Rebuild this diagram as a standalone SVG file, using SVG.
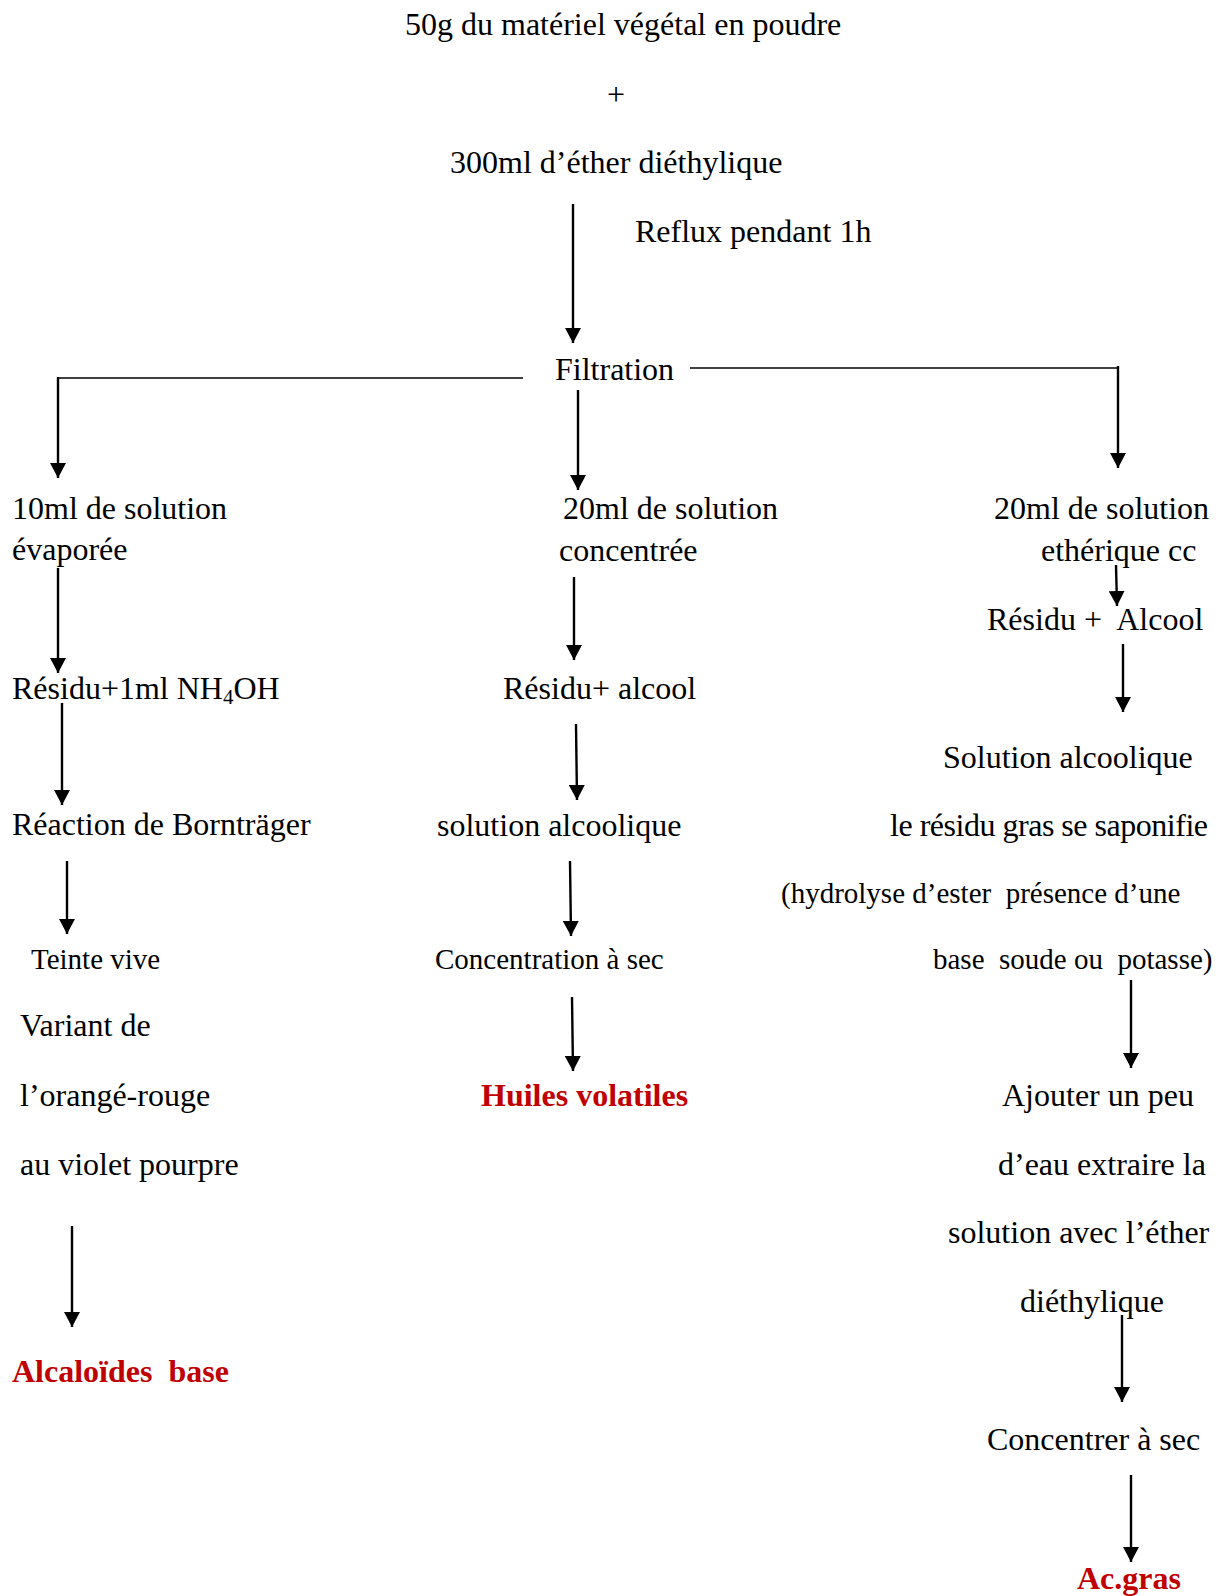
<svg xmlns="http://www.w3.org/2000/svg" width="1218" height="1596" viewBox="0 0 1218 1596">
<style>
text{font-family:"Liberation Serif","Times New Roman",serif;font-size:32px;fill:#000;white-space:pre}
.s{font-size:29px}
.r{fill:#C00000;font-weight:bold}
.c line{stroke:#000;stroke-width:2.4}
.c .h{stroke-width:1.7}
</style>
<defs>
<marker id="ah" viewBox="0 0 15 16" refX="15" refY="8" markerWidth="15" markerHeight="16" markerUnits="userSpaceOnUse" orient="auto">
<path d="M0,0 L15,8 L0,16 Z" fill="#000"/>
</marker>
</defs>
<rect width="1218" height="1596" fill="#fff"/>

<g id="n-start">
<text x="405" y="35">50g du matériel végétal en poudre</text>
<text x="607" y="105">+</text>
<text x="450" y="173">300ml d’éther diéthylique</text>
</g>
<g id="n-reflux"><text x="635" y="242">Reflux pendant 1h</text></g>
<g id="n-filtration"><text x="555" y="380">Filtration</text></g>

<g id="n-l1"><text x="12" y="519">10ml de solution</text><text x="12" y="560">évaporée</text></g>
<g id="n-l2"><text x="12" y="699">Résidu+1ml NH<tspan font-size="21" dy="5">4</tspan><tspan dy="-5">OH</tspan></text></g>
<g id="n-l3"><text x="12" y="835">Réaction de Bornträger</text></g>
<g id="n-l4">
<text class="s" x="31" y="969">Teinte vive</text>
<text x="20" y="1036">Variant de</text>
<text x="20" y="1106">l’orangé-rouge</text>
<text x="20" y="1175">au violet pourpre</text>
</g>
<g id="n-l5"><text class="r" x="12" y="1382">Alcaloïdes  base</text></g>

<g id="n-m1"><text x="563" y="519">20ml de solution</text><text x="559" y="561">concentrée</text></g>
<g id="n-m2"><text x="503" y="699">Résidu+ alcool</text></g>
<g id="n-m3"><text x="437" y="836">solution alcoolique</text></g>
<g id="n-m4"><text class="s" x="435" y="969">Concentration à sec</text></g>
<g id="n-m5"><text class="r" x="481" y="1106">Huiles volatiles</text></g>

<g id="n-r1"><text x="994" y="519">20ml de solution</text><text x="1041" y="561">ethérique cc</text></g>
<g id="n-r2"><text x="987" y="630">Résidu +  Alcool</text></g>
<g id="n-r3">
<text x="943" y="768">Solution alcoolique</text>
<text x="890" y="836" textLength="318">le résidu gras se saponifie</text>
<text class="s" x="781" y="903">(hydrolyse d’ester  présence d’une</text>
<text class="s" x="933" y="969">base  soude ou  potasse)</text>
</g>
<g id="n-r4">
<text x="1002" y="1106">Ajouter un peu</text>
<text x="998" y="1175">d’eau extraire la</text>
<text x="948" y="1243">solution avec l’éther</text>
<text x="1020" y="1312">diéthylique</text>
</g>
<g id="n-r5"><text x="987" y="1450">Concentrer à sec</text></g>
<g id="n-r6"><text class="r" x="1077" y="1589">Ac.gras</text></g>

<g id="connectors" class="c">
<line x1="573" y1="204" x2="573" y2="343" marker-end="url(#ah)"/>
<line class="h" x1="58" y1="378" x2="523" y2="378"/>
<line x1="58" y1="377" x2="58" y2="478" marker-end="url(#ah)"/>
<line class="h" x1="690" y1="368" x2="1118" y2="368"/>
<line x1="1118" y1="366" x2="1118" y2="468" marker-end="url(#ah)"/>
<line x1="578" y1="390" x2="578" y2="490" marker-end="url(#ah)"/>

<line x1="58" y1="568" x2="58" y2="673" marker-end="url(#ah)"/>
<line x1="62" y1="703" x2="62" y2="805" marker-end="url(#ah)"/>
<line x1="67" y1="861" x2="67" y2="934" marker-end="url(#ah)"/>
<line x1="72" y1="1226" x2="72" y2="1327" marker-end="url(#ah)"/>

<line x1="574" y1="577" x2="574" y2="660" marker-end="url(#ah)"/>
<line x1="576" y1="724" x2="577" y2="800" marker-end="url(#ah)"/>
<line x1="570" y1="861" x2="571" y2="936" marker-end="url(#ah)"/>
<line x1="572" y1="997" x2="573" y2="1071" marker-end="url(#ah)"/>

<line x1="1116" y1="565" x2="1117" y2="606" marker-end="url(#ah)"/>
<line x1="1123" y1="644" x2="1123" y2="712" marker-end="url(#ah)"/>
<line x1="1131" y1="980" x2="1131" y2="1068" marker-end="url(#ah)"/>
<line x1="1122" y1="1315" x2="1122" y2="1402" marker-end="url(#ah)"/>
<line x1="1131" y1="1475" x2="1131" y2="1562" marker-end="url(#ah)"/>
</g>
</svg>
